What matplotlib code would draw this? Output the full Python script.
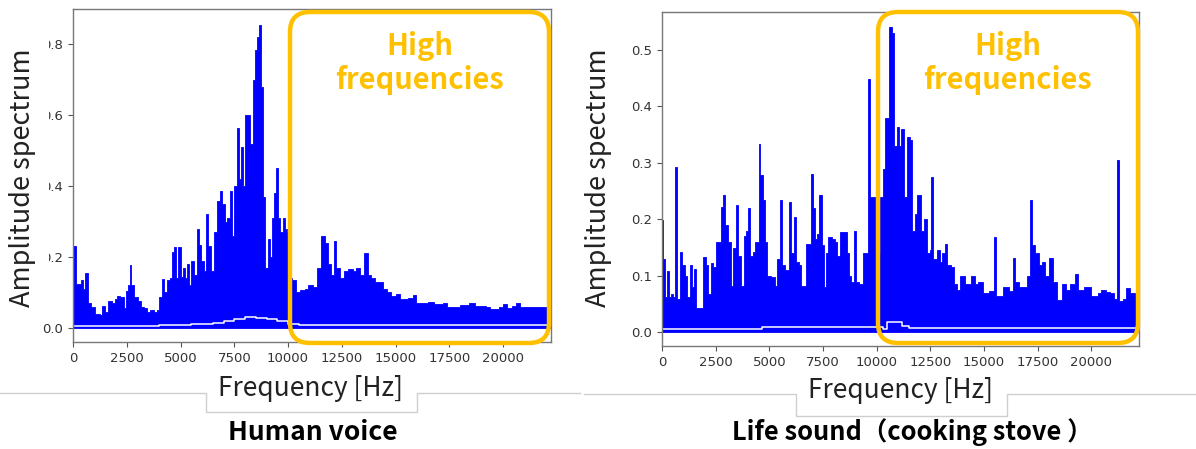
import numpy as np
import matplotlib
matplotlib.use("Agg")
from matplotlib import pyplot as plt
from matplotlib.patches import FancyBboxPatch, Rectangle
from matplotlib.lines import Line2D

plt.rcParams['font.family'] = ['Noto Sans CJK JP', 'DejaVu Sans']

# spectrum peaks (Hz, amplitude)
voice_freq = [0, 150, 350, 450, 550, 700, 850, 1000, 1250, 1350,
              1500, 1650, 1800, 1950, 2050, 2200, 2350, 2450, 2550, 2650,
              2720, 2850, 3000, 3150, 3300, 3450, 3600, 3750, 3900, 4000,
              4150, 4250, 4350, 4500, 4600, 4700, 4800, 4900, 5000, 5100,
              5200, 5300, 5400, 5500, 5650, 5750, 5850, 5950, 6100, 6200,
              6300, 6400, 6550, 6700, 6850, 6950, 7050, 7150, 7300, 7400,
              7500, 7650, 7720, 7800, 7900, 7980, 8150, 8250, 8350, 8450,
              8550, 8650, 8750, 8850, 8950, 9050, 9150, 9250, 9350, 9450,
              9550, 9650, 9750, 9850, 9950, 10050, 10200, 10350, 10550, 10800,
              10950, 11150, 11350, 11550, 11700, 11850, 12000, 12150, 12250, 12400,
              12600, 12800, 13000, 13150, 13350, 13550, 13700, 13850, 14050, 14200,
              14400, 14600, 14800, 15000, 15200, 15600, 15800, 15950, 16500, 16800,
              17200, 17400, 18000, 18400, 18700, 19200, 19400, 19800, 20000, 20200,
              20400, 20600, 20800, 21200, 21600, 22200]
voice_amp = [0.23, 0.125, 0.135, 0.11, 0.155, 0.07, 0.06, 0.04, 0.035, 0.062,
             0.045, 0.075, 0.07, 0.08, 0.09, 0.088, 0.055, 0.105, 0.12, 0.178,
             0.12, 0.088, 0.075, 0.06, 0.055, 0.045, 0.05, 0.045, 0.05, 0.088,
             0.138, 0.10, 0.135, 0.14, 0.215, 0.229, 0.14, 0.229, 0.143, 0.168,
             0.14, 0.18, 0.12, 0.19, 0.15, 0.28, 0.234, 0.19, 0.16, 0.32,
             0.23, 0.16, 0.27, 0.357, 0.385, 0.35, 0.30, 0.31, 0.385, 0.26,
             0.40, 0.565, 0.42, 0.51, 0.40, 0.60, 0.60, 0.52, 0.70, 0.785,
             0.82, 0.856, 0.68, 0.37, 0.17, 0.25, 0.20, 0.31, 0.38, 0.45,
             0.31, 0.27, 0.31, 0.28, 0.27, 0.14, 0.135, 0.10, 0.108, 0.11,
             0.12, 0.115, 0.17, 0.258, 0.24, 0.18, 0.15, 0.245, 0.17, 0.14,
             0.16, 0.165, 0.16, 0.17, 0.15, 0.21, 0.15, 0.14, 0.13, 0.128,
             0.11, 0.10, 0.09, 0.095, 0.08, 0.085, 0.094, 0.07, 0.072, 0.068,
             0.07, 0.06, 0.065, 0.07, 0.063, 0.06, 0.052, 0.06, 0.068, 0.055,
             0.062, 0.07, 0.058, 0.06, 0.06, 0.06]
voice_floor_freq = [0, 2000, 4000, 5500, 6500, 7000, 7500, 8000, 8500, 9000, 9500, 10000, 10500, 22200]
voice_floor = [0.006, 0.006, 0.008, 0.012, 0.015, 0.02, 0.025, 0.03, 0.028, 0.025, 0.02, 0.012, 0.008, 0.008]

life_freq = [0, 60, 150, 250, 330, 420, 500, 620, 700, 850,
             950, 1050, 1150, 1300, 1380, 1500, 1600, 1900, 2050, 2150,
             2270, 2400, 2500, 2650, 2730, 2850, 2950, 3070, 3200, 3300,
             3450, 3560, 3700, 3800, 3920, 4010, 4100, 4230, 4350, 4500,
             4580, 4700, 4800, 4900, 5100, 5250, 5380, 5480, 5580, 5750,
             5900, 6020, 6130, 6250, 6380, 6500, 6720, 6930, 7020, 7120,
             7220, 7330, 7450, 7550, 7650, 7750, 7900, 8050, 8150, 8300,
             8500, 8600, 8700, 8800, 8950, 9050, 9200, 9350, 9500, 9600,
             9700, 9850, 9950, 10050, 10150, 10300, 10400, 10600, 10720, 10820,
             10930, 11050, 11150, 11280, 11420, 11550, 11650, 11780, 11900, 12050,
             12200, 12350, 12500, 12550, 12650, 12800, 12950, 13050, 13170, 13300,
             13450, 13600, 13750, 13900, 14100, 14400, 14600, 14750, 14950, 15250,
             15450, 15550, 15900, 16150, 16350, 16450, 16650, 17000, 17130, 17250,
             17400, 17550, 17700, 17850, 18050, 18200, 18400, 18650, 18850, 19000,
             19250, 19400, 19650, 20000, 20300, 20450, 20700, 20900, 21050, 21200,
             21300, 21500, 21620, 21800, 22200]
life_amp = [0.199, 0.13, 0.063, 0.109, 0.063, 0.068, 0.063, 0.293, 0.06, 0.143,
            0.12, 0.10, 0.063, 0.12, 0.08, 0.113, 0.043, 0.134, 0.12, 0.068,
            0.123, 0.115, 0.16, 0.16, 0.222, 0.243, 0.19, 0.16, 0.083, 0.15,
            0.225, 0.135, 0.083, 0.17, 0.18, 0.22, 0.135, 0.143, 0.16, 0.333,
            0.278, 0.234, 0.16, 0.10, 0.098, 0.083, 0.13, 0.235, 0.12, 0.11,
            0.23, 0.14, 0.205, 0.125, 0.12, 0.083, 0.157, 0.28, 0.22, 0.165,
            0.175, 0.243, 0.155, 0.08, 0.14, 0.168, 0.165, 0.16, 0.135, 0.178,
            0.178, 0.14, 0.10, 0.09, 0.18, 0.09, 0.085, 0.14, 0.14, 0.449,
            0.24, 0.24, 0.175, 0.14, 0.24, 0.29, 0.38, 0.54, 0.53, 0.33,
            0.364, 0.33, 0.36, 0.24, 0.346, 0.34, 0.18, 0.21, 0.243, 0.18,
            0.20, 0.14, 0.146, 0.275, 0.13, 0.146, 0.125, 0.14, 0.157, 0.12,
            0.115, 0.085, 0.075, 0.10, 0.085, 0.10, 0.085, 0.09, 0.07, 0.073,
            0.169, 0.065, 0.08, 0.073, 0.131, 0.09, 0.08, 0.10, 0.235, 0.155,
            0.14, 0.12, 0.125, 0.10, 0.131, 0.09, 0.057, 0.085, 0.075, 0.085,
            0.104, 0.075, 0.08, 0.065, 0.07, 0.075, 0.072, 0.07, 0.06, 0.305,
            0.055, 0.06, 0.078, 0.07, 0.07]
life_floor_freq = [0, 4500, 4650, 10300, 10500, 11200, 11500, 22200]
life_floor = [0.006, 0.006, 0.009, 0.006, 0.018, 0.012, 0.007, 0.006]

xticks = [0, 2500, 5000, 7500, 10000, 12500, 15000, 17500, 20000]
voice_yticks = [0.0, 0.2, 0.4, 0.6, 0.8]
life_yticks = [0.0, 0.1, 0.2, 0.3, 0.4, 0.5]

ORANGE = '#FFC000'
W, H = 1196, 449


def px(x0, y0, x1, y1):
    # pixel box (top-left origin) -> figure fraction [l, b, w, h]
    return [x0 / W, 1 - y1 / H, (x1 - x0) / W, (y1 - y0) / H]


def draw_spectrum(ax, freq, amp, floor_freq, floor, yticks, ylim):
    ax.fill_between(freq, 0, amp, step='post', color='blue', lw=0.6, edgecolor='blue')
    ax.step(floor_freq, floor, where='post', color='white', lw=1.1)
    ax.set_xlim(0, 22230)
    ax.set_ylim(*ylim)
    ax.set_xticks(xticks)
    ax.set_yticks(yticks)
    ax.set_yticklabels(['%.1f' % t for t in yticks])
    ax.tick_params(labelsize=9.5, colors='#555555', labelcolor='#333333',
                   length=3.5, labelfontfamily='DejaVu Sans')
    for s in ax.spines.values():
        s.set_color('#777777')
        s.set_linewidth(1.0)


fig = plt.figure(figsize=(W / 100, H / 100), dpi=100)

ax1 = fig.add_axes(px(73, 9, 551, 342))
draw_spectrum(ax1, voice_freq, voice_amp, voice_floor_freq, voice_floor,
              voice_yticks, (-0.04, 0.90))

ax2 = fig.add_axes(px(662, 12, 1139, 346))
draw_spectrum(ax2, life_freq, life_amp, life_floor_freq, life_floor,
              life_yticks, (-0.024, 0.567))

# white patch hiding the leading zeros of the left tick labels
fig.add_artist(Rectangle((0, 1 - 318 / H), 48.5 / W, (318 - 30) / H,
                         transform=fig.transFigure, facecolor='white',
                         edgecolor='none', zorder=5))

for xc in (23, 598):
    fig.text(xc / W, 1 - 178 / H, 'Amplitude spectrum', rotation=90,
             ha='center', va='center', fontsize=19.5, color='#222222', zorder=6)

# light grey tab outlines around the x labels
tab_lines = [
    ([0, 206, 206, 417, 417, 580], [393, 393, 412, 412, 393, 393]),
    ([584, 796, 796, 1007, 1007, 1196], [394, 394, 416, 416, 394, 394]),
]
for xs, ys in tab_lines:
    fig.add_artist(Line2D([x / W for x in xs], [1 - y / H for y in ys],
                          transform=fig.transFigure, color='#cfcfcf', lw=1.0))

fig.text(310 / W, 1 - 388 / H, 'Frequency [Hz]', ha='center', va='center',
         fontsize=19, color='#222222')
fig.text(900 / W, 1 - 391 / H, 'Frequency [Hz]', ha='center', va='center',
         fontsize=19, color='#222222')

fig.text(313 / W, 1 - 433 / H, 'Human voice', ha='center', va='center',
         fontsize=19, fontweight='bold', color='black')
fig.text(912 / W, 1 - 432 / H, 'Life sound（cooking stove ）', ha='center', va='center',
         fontsize=18.3, fontweight='bold', color='black')

# orange rounded boxes marking the high-frequency band
for x0, x1 in ((290, 549), (878, 1138)):
    box = FancyBboxPatch((x0 / 100, (H - 343) / 100), (x1 - x0) / 100, (343 - 12) / 100,
                         boxstyle='round,pad=0,rounding_size=0.2',
                         transform=fig.dpi_scale_trans, fill=False,
                         edgecolor=ORANGE, lw=3.2, zorder=7)
    fig.add_artist(box)
    fig.text((x0 + x1) / 2 / W, 1 - 63 / H, 'High\nfrequencies', ha='center',
             va='center', fontsize=21, fontweight='bold', color=ORANGE,
             linespacing=1.2, zorder=8)

plt.savefig('out.png', dpi=100)
